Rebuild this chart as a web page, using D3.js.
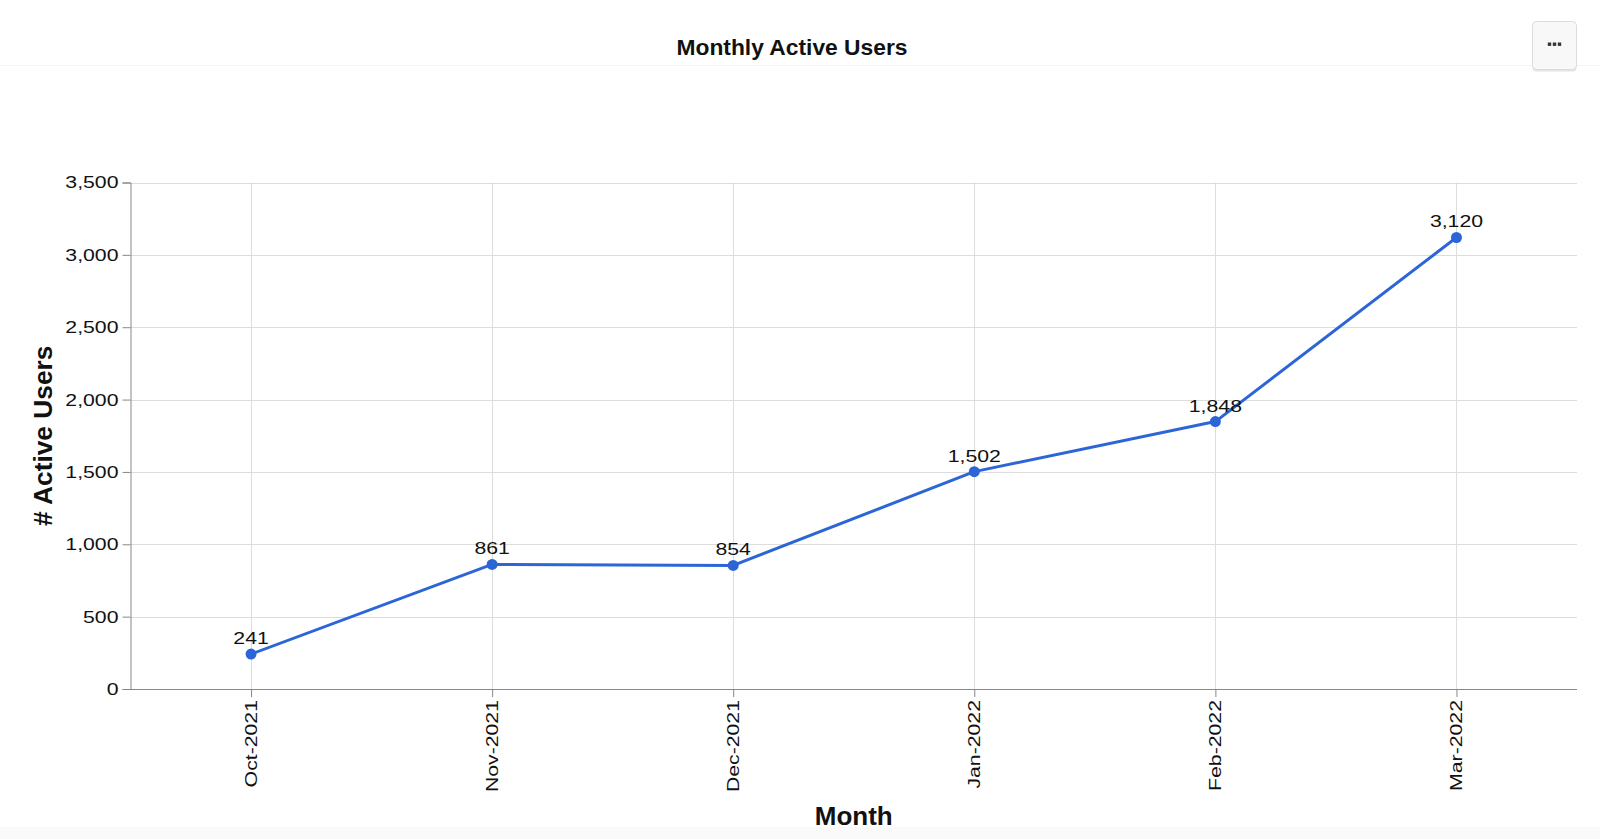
<!DOCTYPE html>
<html>
<head>
<meta charset="utf-8">
<script src="https://cdn.jsdelivr.net/npm/d3@7"></script>
<style>
  html, body { margin: 0; padding: 0; background: #fff; }
  svg { display: block; font-family: "Liberation Sans", Arial, Helvetica, sans-serif; }
</style>
</head>
<body>
<svg id="chart" width="1600" height="839"></svg>
<script>
const months = ["Oct-2021", "Nov-2021", "Dec-2021", "Jan-2022", "Feb-2022", "Mar-2022"];
const activeUsers = [241, 861, 854, 1502, 1848, 3120];
const yTicks = [0, 500, 1000, 1500, 2000, 2500, 3000, 3500];
const title = "Monthly Active Users";
const xTitle = "Month";
const yTitle = "# Active Users";

const data = months.map((m, i) => ({ month: m, value: activeUsers[i] }));

const W = 1600, H = 839;
const margin = { top: 182.5, right: 23, bottom: 150, left: 130.5 };
const svg = d3.select("#chart");
const wide = 1.25; // horizontal stretch of the small label font
const fs = 17;

// header band
svg.append("line").attr("x1", 0).attr("x2", W).attr("y1", 65.5).attr("y2", 65.5)
  .attr("stroke", "#f3f3f3").attr("stroke-width", 1);
// footer band
svg.append("rect").attr("x", 0).attr("y", 827).attr("width", W).attr("height", 12).attr("fill", "#fafafa");

svg.append("text").attr("x", 792).attr("y", 54.5).attr("text-anchor", "middle")
  .attr("font-size", 22.8).attr("font-weight", "bold").attr("fill", "#111").text(title);

// menu button
const btn = svg.append("g");
btn.append("rect").attr("x", 1532.5).attr("y", 23.5).attr("width", 44).attr("height", 48).attr("rx", 4)
  .attr("fill", "#e4e4e4");
btn.append("rect").attr("x", 1532.5).attr("y", 21.5).attr("width", 44).attr("height", 48).attr("rx", 4)
  .attr("fill", "#f8f8f8").attr("stroke", "#dcdcdc").attr("stroke-width", 1);
[-5, 0, 5].forEach(dx => {
  btn.append("rect").attr("x", 1554.5 + dx - 1.7).attr("y", 42.5).attr("width", 3.4).attr("height", 3.4).attr("fill", "#333");
});

const x0 = margin.left, x1 = W - margin.right;
const y0 = H - margin.bottom, y1 = margin.top;

const x = d3.scalePoint().domain(months).range([x0, x1]).padding(0.5);
const y = d3.scaleLinear().domain([0, 3500]).range([y0, y1]);

// gridlines
const grid = svg.append("g");
grid.selectAll(".hg").data(yTicks).join("line")
  .attr("x1", x0).attr("x2", x1)
  .attr("y1", d => Math.round(y(d)) + 0.5).attr("y2", d => Math.round(y(d)) + 0.5)
  .attr("stroke", "#ddd").attr("stroke-width", 1);
grid.selectAll(".vg").data(months).join("line")
  .attr("x1", d => Math.round(x(d)) + 0.5).attr("x2", d => Math.round(x(d)) + 0.5)
  .attr("y1", y1).attr("y2", y0)
  .attr("stroke", "#ddd").attr("stroke-width", 1);

// y axis
const yAxis = svg.append("g").attr("transform", `translate(${x0},0)`)
  .call(d3.axisLeft(y).tickValues(yTicks).tickFormat(d3.format(",")).tickSize(8).tickPadding(4));
yAxis.select(".domain").attr("stroke", "#888");
yAxis.selectAll(".tick line").attr("stroke", "#888");
yAxis.selectAll(".tick text").attr("font-size", fs).attr("fill", "#111")
  .attr("font-family", "\"Liberation Sans\", Arial, sans-serif")
  .attr("x", 0).attr("transform", `translate(-12,0) scale(${wide},1)`);

// x axis
const xAxis = svg.append("g").attr("transform", `translate(0,${y0})`)
  .call(d3.axisBottom(x).tickSize(8).tickPadding(4));
xAxis.select(".domain").attr("stroke", "#888").attr("d", `M${x0},0.5H${x1}`);
xAxis.selectAll(".tick line").attr("stroke", "#888");
xAxis.selectAll(".tick text").attr("font-size", fs).attr("fill", "#111")
  .attr("font-family", "\"Liberation Sans\", Arial, sans-serif")
  .attr("transform", `rotate(-90) translate(-11,0) scale(${wide},1)`)
  .attr("text-anchor", "end").attr("dy", "0.32em").attr("x", 0).attr("y", 0);

// axis titles
svg.append("text").attr("transform", `translate(52,${(y0 + y1) / 2}) rotate(-90)`)
  .attr("text-anchor", "middle").attr("font-size", 26.3).attr("font-weight", "bold").attr("fill", "#111").text(yTitle);
svg.append("text").attr("x", (x0 + x1) / 2).attr("y", 825)
  .attr("text-anchor", "middle").attr("font-size", 26).attr("font-weight", "bold").attr("fill", "#111").text(xTitle);

// line
const color = "#2c66d6";
const line = d3.line().x(d => x(d.month)).y(d => y(d.value));
svg.append("path").datum(data).attr("d", line).attr("fill", "none")
  .attr("stroke", color).attr("stroke-width", 3).attr("stroke-linejoin", "round");

svg.selectAll(".pt").data(data).join("circle")
  .attr("cx", d => x(d.month)).attr("cy", d => y(d.value)).attr("r", 5.5).attr("fill", color);

svg.selectAll(".lbl").data(data).join("text")
  .attr("transform", d => `translate(${x(d.month)},${y(d.value) - 10}) scale(${wide},1)`)
  .attr("text-anchor", "middle").attr("font-size", fs).attr("fill", "#111")
  .text(d => d3.format(",")(d.value));
</script>
</body>
</html>
